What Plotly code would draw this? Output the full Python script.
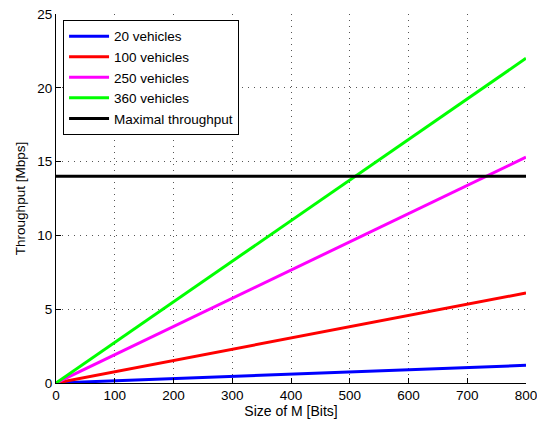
import plotly.graph_objects as go

x_bits = [0, 800]
names = ["20 vehicles", "100 vehicles", "250 vehicles", "360 vehicles", "Maximal throughput"]
series_values = [
    [0, 1.2],
    [0, 6.1],
    [0, 15.3],
    [0, 22.0],
    [14, 14],
]
colors = ["#0000ff", "#ff0000", "#ff00ff", "#00ff00", "#000000"]
x_ticks = [0, 100, 200, 300, 400, 500, 600, 700, 800]
y_ticks = [0, 5, 10, 15, 20, 25]

fig = go.Figure()
for n, v, c in zip(names, series_values, colors):
    fig.add_trace(go.Scatter(x=x_bits, y=v, mode="lines", name=n,
                             line=dict(color=c, width=3)))

font = "Arial"
grid = dict(showgrid=True, gridcolor="#555555", griddash="1px,5px", gridwidth=1)
fig.update_layout(
    width=545, height=423,
    margin=dict(l=48, r=27, t=6, b=48, autoexpand=False),
    paper_bgcolor="white", plot_bgcolor="white",
    font=dict(family=font, size=13, color="black"),
    showlegend=True,
    legend=dict(x=0.015, y=0.984, xanchor="left", yanchor="top",
                bgcolor="white", bordercolor="black", borderwidth=1,
                font=dict(family=font, size=13.5), tracegroupgap=0, itemwidth=40),
    xaxis=dict(range=[0, 800], tickvals=x_ticks, ticks="inside", ticklen=5,
               tickcolor="black", tickfont=dict(family=font, size=13.5),
               ticklabeloverflow="allow",
               showline=True, linecolor="black", linewidth=1, automargin=False,
               zeroline=False, title=dict(text="Size of M [Bits]", font=dict(family=font, size=14), standoff=2),
               **grid),
    yaxis=dict(range=[0, 25], tickvals=y_ticks, ticks="inside", ticklen=5,
               tickcolor="black", tickfont=dict(family=font, size=13.5),
               ticklabeloverflow="allow",
               showline=True, linecolor="black", linewidth=1, automargin=False,
               zeroline=False, title=dict(text="Throughput [Mbps]", font=dict(family=font, size=13.5), standoff=8),
               **grid),
)
fig.write_html("out.html")
